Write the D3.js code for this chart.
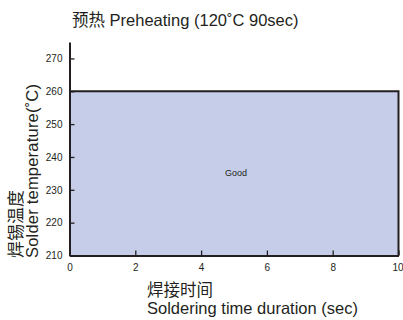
<!DOCTYPE html>
<html><head><meta charset="utf-8">
<script src="https://cdn.jsdelivr.net/npm/d3@7/dist/d3.min.js"></script>
<style>
body{margin:0;background:#fff;}
svg{display:block;font-family:"Liberation Sans",Arial,"Noto Sans CJK SC",sans-serif;}
</style></head>
<body><svg id="c" width="403" height="320"></svg>
<script>
const titleText = "预热 Preheating (120˚C 90sec)";
const xLabelCN = "焊接时间";
const xLabelEN = "Soldering time duration (sec)";
const yLabelCN = "焊锡温度";
const yLabelEN = "Solder temperature(˚C)";
const xTicks = [0, 2, 4, 6, 8, 10];
const yTicks = [210, 220, 230, 240, 250, 260, 270];
const xDomain = [0, 10];
const yDomain = [210, 275];
const regions = [{label: "Good", x0: 0, x1: 10, y0: 210, y1: 260}];

const svg = d3.select("#c");
const x = d3.scaleLinear().domain(xDomain).range([69.5, 398.5]);
const y = d3.scaleLinear().domain(yDomain).range([255.5, 42]);
const ink = "#231f20";

// region
const g = svg.append("g");
g.selectAll("rect.region").data(regions).enter().append("rect")
  .attr("x", d => x(d.x0)).attr("y", d => y(d.y1))
  .attr("width", d => x(d.x1) - x(d.x0)).attr("height", d => y(d.y0) - y(d.y1))
  .attr("fill", "#c5cde9");
g.selectAll("path.border").data(regions).enter().append("path")
  .attr("d", d => `M${x(d.x0)},${y(d.y1)}H${x(d.x1)}V${y(d.y0)}`)
  .attr("fill", "none").attr("stroke", ink).attr("stroke-width", 2);
g.selectAll("text.rl").data(regions).enter().append("text")
  .attr("x", d => x((d.x0 + d.x1) / 2) + 2).attr("y", d => y((d.y0 + d.y1) / 2) + 3)
  .attr("text-anchor", "middle").attr("font-size", 9).attr("fill", ink)
  .text(d => d.label);

// axes
const yAxis = d3.axisLeft(y).tickValues(yTicks).tickSizeInner(-5).tickSizeOuter(0).tickPadding(7);
const xAxis = d3.axisBottom(x).tickValues(xTicks).tickSizeInner(-5).tickSizeOuter(0).tickPadding(6);
const ya = svg.append("g").attr("transform", `translate(${x(0)},0)`).call(yAxis);
const xa = svg.append("g").attr("transform", `translate(0,${y(210)})`).call(xAxis);
[ya, xa].forEach(a => {
  a.select(".domain").attr("stroke", ink).attr("stroke-width", 2);
  a.selectAll(".tick line").attr("stroke", ink).attr("stroke-width", 1.3);
  a.selectAll(".tick text").attr("font-size", 10).attr("fill", ink)
   .attr("font-family", "'Liberation Sans',Arial,sans-serif");
});
xa.selectAll(".tick text").attr("dy", "0.9em");
xa.selectAll(".tick text").filter(d => d === 10).attr("dx", -1);

// title
svg.append("text").attr("x", 72).attr("y", 26).attr("font-size", 16.5).attr("fill", ink).text(titleText);

// x label
svg.append("text").attr("x", 147).attr("y", 296).attr("font-size", 16.5).attr("fill", ink).text(xLabelCN);
svg.append("text").attr("x", 147).attr("y", 314).attr("font-size", 16.5).attr("fill", ink).text(xLabelEN);

// y label
svg.append("text").attr("transform", "translate(21.5,258) rotate(-90)").attr("font-size", 17).attr("fill", ink).text(yLabelCN);
svg.append("text").attr("transform", "translate(37.5,258) rotate(-90)").attr("font-size", 16.5).attr("fill", ink)
  .attr("textLength", 174).attr("lengthAdjust", "spacing").text(yLabelEN);
</script></body></html>
